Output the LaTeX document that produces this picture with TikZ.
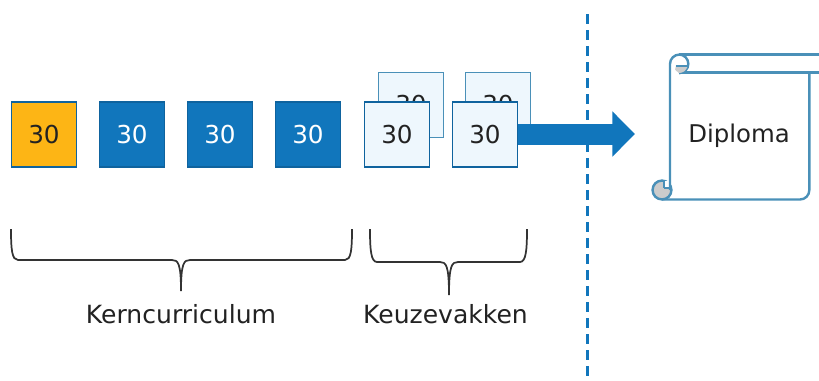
\documentclass[tikz,border=0pt]{standalone}
\usepackage{fontspec}
\setmainfont{DejaVu Sans}
\usetikzlibrary{arrows.meta}
\definecolor{vakblauw}{HTML}{1176BC}
\definecolor{vakoranje}{HTML}{FDB515}
\definecolor{vaklicht}{HTML}{EEF7FD}
\definecolor{vakrand}{HTML}{0F639E}
\definecolor{rolrand}{HTML}{4A90B8}
\definecolor{tekst}{HTML}{222222}
\tikzset{
  vak/.style={draw=vakrand, line width=1.2pt, minimum size=48.5pt, inner sep=0pt, text=tekst, font=\fontsize{18.5}{20}\selectfont},
  kernvak/.style={vak, fill=vakblauw, text=white},
  keuzevak/.style={vak, fill=vaklicht},
  achtervak/.style={keuzevak, draw=rolrand},
  etiket/.style={text=tekst, font=\fontsize{18.8}{22}\selectfont, inner sep=0pt},
  accolade/.style={draw=black!80, line width=1.3pt},
  rol/.style={draw=rolrand, line width=1.8pt},
}
\begin{document}
\begin{tikzpicture}[x=0.75pt, y=-0.75pt]
  \useasboundingbox (0,0) rectangle (819,380);
  % Scheidingslijn
  \draw[vakblauw, line width=2.3pt, dash pattern=on 7.5pt off 4.5pt] (587.5,14) -- (587.5,380);
  % Achterste keuzevakken
  \foreach \x/\name in {411/a, 498/b} {
    \node[achtervak] (achter\name) at (\x,105) {30};
  }
  % Pijl naar het diploma
  \coordinate (pijlpunt) at (635,134);
  % Vakken op de voorste rij
  \node[vak, fill=vakoranje] (vak1) at (44,134.5) {30};
  \foreach \x [count=\i from 2] in {132, 220, 308} {
    \node[kernvak] (vak\i) at (\x,134.5) {30};
  }
  \node[keuzevak] (keuze1) at (397,134.5) {30};
  \draw[vakblauw, line width=15.75pt, -{Triangle[length=17pt, width=33pt]}] (518,134) -- (pijlpunt);
  \node[keuzevak] (keuze2) at (485,134.5) {30};
  % Accolades
  \foreach \l/\m/\r/\h/\t in {11/181/352/260/291, 370/449/527/262/295} {
    \draw[accolade] (\l,229) .. controls (\l,250) and (\l+1,\h) .. (\l+7,\h) -- (\m-9,\h)
      .. controls (\m-3,\h) and (\m,\h+3) .. (\m,\t) .. controls (\m,\h+3) and (\m+3,\h) .. (\m+9,\h)
      -- (\r-7,\h) .. controls (\r-1,\h) and (\r,250) .. (\r,229);
  }
  \node[etiket] (kern) at (181,314) {Kerncurriculum};
  \node[etiket] (keuze) at (445.5,314) {Keuzevakken};
  % Diploma (rol)
  \draw[rol, fill=black!20] (662,190) circle[radius=7.1pt];
  \fill[white] (664,181) rectangle (671,188);
  \draw[rol] (664,188) -- (671,188);
  \draw[rol] (664,180.5) -- (664,188);
  \draw[rol] (679,54.5) -- (819,54.5);
  \draw[rol] (679,72.5) -- (819,72.5);
  \draw[rol] (670,190) -- (670,64) arc[start angle=180, end angle=90, radius=7.1pt];
  \draw[rol] (662,199.5) -- (800,199.5) arc[start angle=-90, end angle=0, radius=7pt] -- (809.3,72.5);
  \draw[rol] (679,54.5) arc[start angle=90, end angle=-90, radius=7pt];
  \fill[black!20] (687.5,66.5) arc[start angle=-15, end angle=-90, radius=6.6pt] -- (678,72) .. controls (675,71) and (674,68) .. (676,66) -- cycle;
  \draw[rol, line width=1.4pt] (675.5,66) -- (688,66);
  \node[text=tekst, font=\fontsize{18.3}{21}\selectfont, inner sep=0pt] (diploma) at (739,136) {Diploma};
\end{tikzpicture}
\end{document}
